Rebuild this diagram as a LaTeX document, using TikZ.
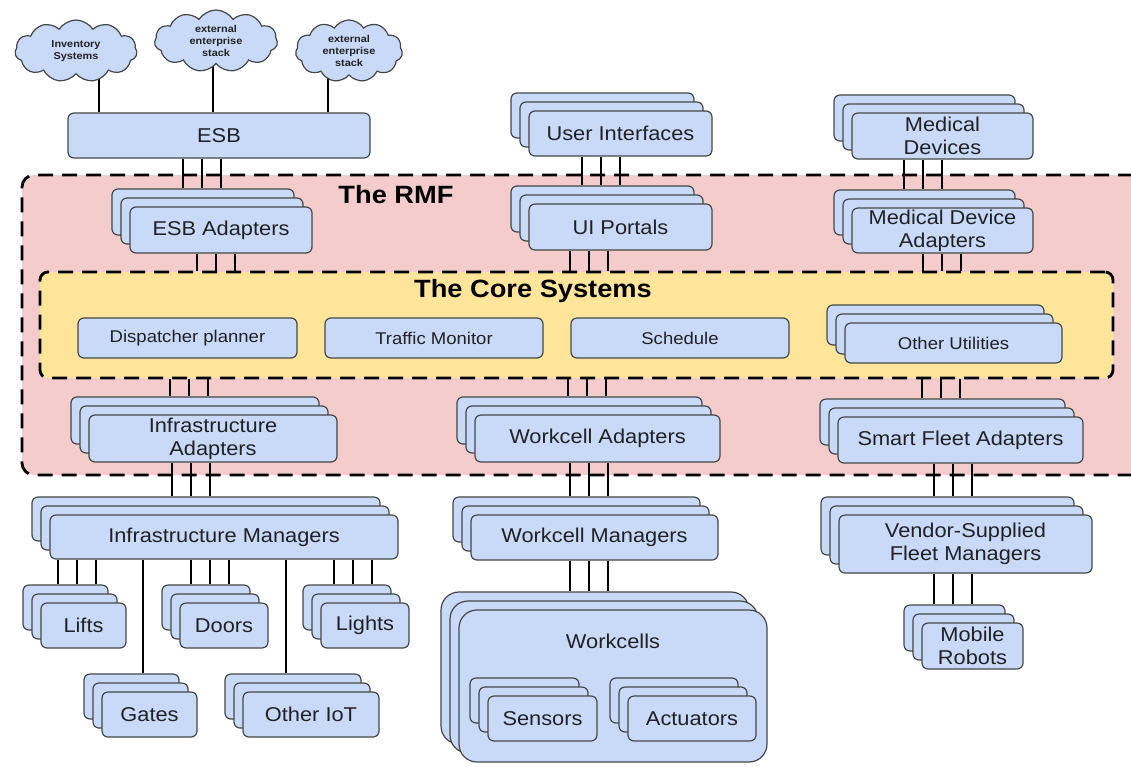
\documentclass[tikz,border=0pt]{standalone}
\usepackage{fontspec}
\setmainfont[FakeStretch=1.09]{Liberation Sans}
\usepackage{xcolor}
\usepackage{tikz}
\usetikzlibrary{shapes.symbols, shadows, calc, backgrounds}
\definecolor{boxfill}{HTML}{C9DAF8}
\definecolor{boxline}{HTML}{444746}
\definecolor{rmffill}{HTML}{F4CCCC}
\definecolor{corefill}{HTML}{FFE599}
\definecolor{ink}{HTML}{202124}
\tikzstyle{block} = [rectangle, rounded corners=6pt, draw=boxline, fill=boxfill, line width=1.2pt, inner sep=0pt, align=center, text=ink, font=\fontsize{20}{23}\selectfont]
\tikzstyle{stacked} = [block, general shadow={shadow xshift=-18pt, shadow yshift=18pt, fill=boxfill, draw=boxline, line width=1.2pt}, general shadow={shadow xshift=-9pt, shadow yshift=9pt, fill=boxfill, draw=boxline, line width=1.2pt}]
\tikzstyle{small} = [block, font=\fontsize{17}{20}\selectfont]
\tikzstyle{extcloud} = [cloud, cloud puffs=11, cloud puff arc=115, aspect=2, draw=boxline, fill=boxfill, line width=1.2pt, inner sep=0pt, align=center, text=ink, font=\bfseries\fontsize{10}{12}\selectfont]
\tikzstyle{zone} = [rectangle, draw=black, line width=2.8pt, dash pattern=on 15pt off 9pt]
\tikzstyle{heading} = [text=black, font=\bfseries\fontsize{25}{30}\selectfont]
\tikzstyle{wire} = [line width=2.8pt, black]

\begin{document}
\begin{tikzpicture}[x=1pt, y=-1pt]
    \useasboundingbox (0,0) rectangle (1131,766);

    % Zones
    \node[zone, rounded corners=12pt, fill=rmffill, minimum width=1123pt, minimum height=300pt] (rmf) at (583.5,325) {};
    \node[zone, rounded corners=8pt, fill=corefill, minimum width=1073pt, minimum height=106pt] (core) at (576.5,325) {};
    \node[heading, anchor=base] (rmftitle) at (396,203) {The RMF};
    \node[heading, anchor=base] (coretitle) at (533,297) {The Core Systems};

    % Outside world
    \node[extcloud, minimum width=122pt, minimum height=62pt] (inventory) at (76,51) {Inventory\\Systems};
    \node[extcloud, minimum width=123pt, minimum height=62pt] (stackA) at (216,41) {external\\enterprise\\stack};
    \node[extcloud, minimum width=107pt, minimum height=62pt] (stackB) at (349,51) {external\\enterprise\\stack};
    \node[block, minimum width=302pt, minimum height=45pt] (esb) at (219,135.5) {ESB};
    \node[stacked, minimum width=183pt, minimum height=45pt] (ui) at (620.5,133.5) {User Interfaces};
    \node[stacked, minimum width=181pt, minimum height=46pt] (meddev) at (942.5,136) {Medical\\Devices};

    % Adapters on top
    \node[stacked, minimum width=182pt, minimum height=46pt] (esbad) at (221,230) {ESB Adapters};
    \node[stacked, minimum width=183pt, minimum height=46pt] (portal) at (620.5,227) {UI Portals};
    \node[stacked, minimum width=181pt, minimum height=45pt] (medad) at (942.5,230.5) {Medical Device\\Adapters};

    % Core systems
    \node[small, minimum width=219pt, minimum height=40pt] (dispatch) at (187.5,338) {Dispatcher planner};
    \node[small, minimum width=218pt, minimum height=40pt] (traffic) at (434,338) {Traffic Monitor};
    \node[small, minimum width=218pt, minimum height=40pt] (schedule) at (680,338) {Schedule};
    \node[small, stacked, font=\fontsize{17}{20}\selectfont, minimum width=217pt, minimum height=40pt] (utils) at (953.5,343) {Other Utilities};

    % Adapters below
    \node[stacked, minimum width=248pt, minimum height=47pt] (infad) at (213,438.5) {Infrastructure\\Adapters};
    \node[stacked, minimum width=245pt, minimum height=47pt] (wcad) at (597.5,438.5) {Workcell Adapters};
    \node[stacked, minimum width=245pt, minimum height=46pt] (sfad) at (960.5,440) {Smart Fleet Adapters};

    % Managers and devices
    \node[stacked, minimum width=348pt, minimum height=44pt] (infman) at (224,537) {Infrastructure Managers};
    \node[stacked, minimum width=85pt, minimum height=45pt] (lifts) at (83.5,625.5) {Lifts};
    \node[stacked, minimum width=88pt, minimum height=45pt] (doors) at (224,625.5) {Doors};
    \node[stacked, minimum width=88pt, minimum height=45pt] (lights) at (365,625.5) {Lights};
    \node[stacked, minimum width=95pt, minimum height=45pt] (gates) at (149.5,714.5) {Gates};
    \node[stacked, minimum width=136pt, minimum height=45pt] (otheriot) at (311,714.5) {Other IoT};

    \node[stacked, minimum width=247pt, minimum height=45pt] (wcman) at (594.5,537.5) {Workcell Managers};
    \node[stacked, rounded corners=18pt, minimum width=308pt, minimum height=152pt] (wcells) at (613,686) {};
    \node[block, draw=none, fill=none, anchor=base] (wclabel) at (613,648) {Workcells};
    \node[stacked, minimum width=109pt, minimum height=45pt] (sensors) at (542.5,718.5) {Sensors};
    \node[stacked, minimum width=128pt, minimum height=45pt] (actuators) at (692,718.5) {Actuators};

    \node[stacked, minimum width=253pt, minimum height=58pt] (fleetman) at (965.5,544) {Vendor-Supplied\\Fleet Managers};
    \node[stacked, minimum width=101pt, minimum height=46pt] (robots) at (972.5,646) {Mobile\\Robots};

    % Cloud links
    \begin{pgfonlayer}{background}
    \foreach \src/\xc in {inventory/99, stackA/213, stackB/328}
        \draw[wire] (\xc,0 |- \src.center) -- (\xc,0 |- esb.north);
    \end{pgfonlayer}

    % Triple links
    \foreach \up/\lo/\xc/\lift in {esb/esbad/202/18, esbad/core/216/0, ui/portal/601/18, portal/core/589/0, meddev/medad/923/18, medad/core/942/0, core/infad/189/18, core/wcad/587/18, core/sfad/941/18, infad/infman/191/18, wcad/wcman/589/18, sfad/fleetman/953/18, infman/lifts/77/18, infman/doors/210/18, infman/lights/353/18, wcman/wcells/589/18, fleetman/robots/953/18}
        \foreach \dx in {-19,0,19}
            \draw[wire] (\xc+\dx,0 |- \up.south) -- ($(\xc+\dx,0 |- \lo.north)+(0,-\lift)$);

    % Single links
    \foreach \lo/\xc in {gates/143, otheriot/286}
        \draw[wire] (\xc,0 |- infman.south) -- ($(\xc,0 |- \lo.north)+(0,-18)$);
\end{tikzpicture}
\end{document}
